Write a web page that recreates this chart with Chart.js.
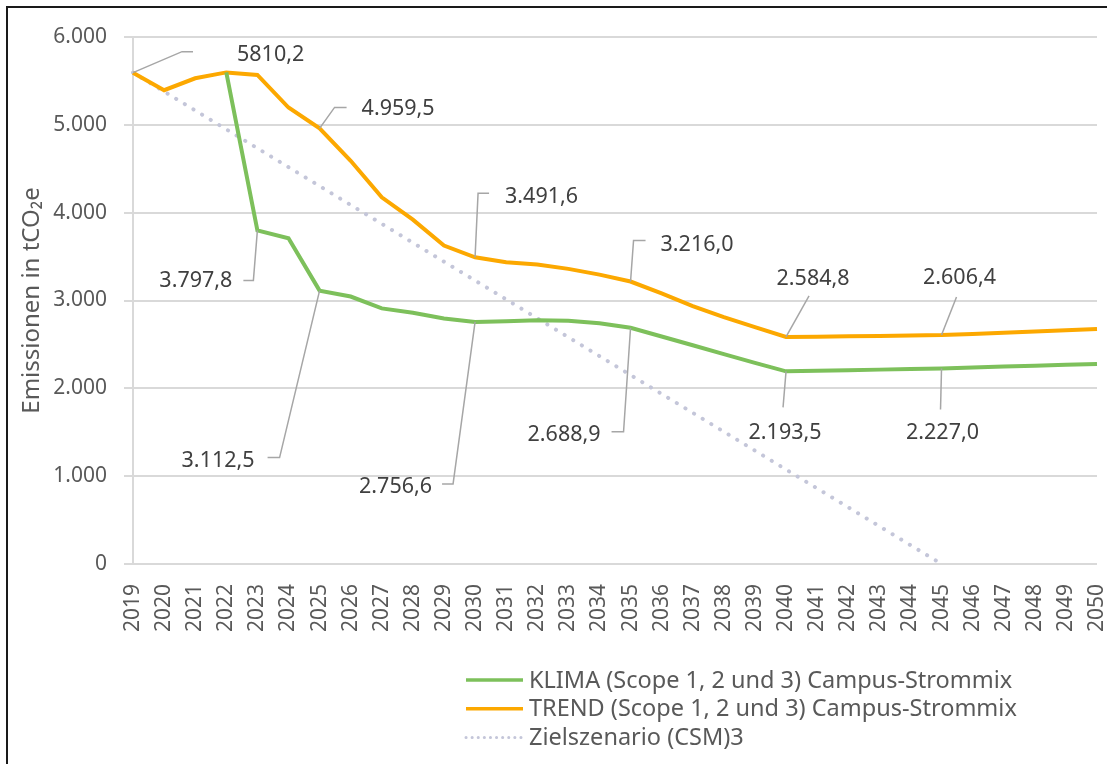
<!DOCTYPE html>
<html>
<head>
<meta charset="utf-8">
<script src="https://cdn.jsdelivr.net/npm/chart.js@4.4.0/dist/chart.umd.min.js"></script>
<style>
  html, body { margin: 0; padding: 0; background: #fff; }
  #wrap { width: 1107px; height: 764px; position: relative; }
</style>
</head>
<body>
<div id="wrap"><canvas id="chart"></canvas></div>
<script>
// years on the x axis
const years = ['2019','2020','2021','2022','2023','2024','2025','2026','2027','2028','2029','2030','2031','2032','2033','2034',
               '2035','2036','2037','2038','2039','2040','2041','2042','2043','2044','2045','2046','2047','2048','2049','2050'];

// tCO2e per scenario
const klimaValues = [null, null, null, 5597, 3797.8, 3708, 3112.5, 3045, 2910, 2860, 2795, 2756.6, 2765, 2775, 2770, 2740,
                     2688.9, 2590, 2490, 2390, 2290, 2193.5, 2200, 2207, 2213, 2220, 2227.0, 2237, 2248, 2258, 2268, 2278];
const trendValues = [5594, 5394, 5530, 5597, 5568, 5197, 4959.5, 4591, 4174, 3920, 3625, 3491.6, 3435, 3409, 3360, 3295,
                     3216.0, 3080, 2935, 2810, 2697, 2584.8, 2588, 2592, 2597, 2601, 2606.4, 2620, 2634, 2648, 2662, 2676];
// target path: start and end point only
const zielValues = [5594, null, null, null, null, null, null, null, null, null, null, null, null, null, null, null,
                    null, null, null, null, null, null, null, null, null, null, 0, null, null, null, null, null];

const seriesNames = ['KLIMA (Scope 1, 2 und 3) Campus-Strommix',
                     'TREND (Scope 1, 2 und 3) Campus-Strommix',
                     'Zielszenario (CSM)3'];

// data labels
const trendLabelYears = ['2019', '2025', '2030', '2035', '2040', '2045'];
const trendLabelTexts = ['5810,2', '4.959,5', '3.491,6', '3.216,0', '2.584,8', '2.606,4'];
const klimaLabelYears = ['2023', '2025', '2030', '2035', '2040', '2045'];
const klimaLabelTexts = ['3.797,8', '3.112,5', '2.756,6', '2.688,9', '2.193,5', '2.227,0'];

const GREEN = '#7dc05b';
const ORANGE = '#fca800';
const DOTS = '#c4c6d9';
const FONT = '"Noto Sans", "Open Sans", sans-serif';

// leader line offsets (px) relative to the point, text offset and alignment
const trendLayout = [
  { leader: [[0,0],[49,-21],[60,-21]], text: [104,-18], align: 'left' },
  { leader: [[0,0],[15,-21],[27,-21]], text: [42,-20], align: 'left' },
  { leader: [[0,0],[3,-64],[14,-64]],  text: [30,-60], align: 'left' },
  { leader: [[0,0],[3,-41],[15,-41]],  text: [30,-37], align: 'left' },
  { leader: [[0,0],[23,-41]],          text: [27,-58], align: 'center' },
  { leader: [[0,0],[15,-38]],          text: [18,-57], align: 'center' }
];
const klimaLayout = [
  { leader: [[0,0],[-4,50],[-14,50]],    text: [-25,50], align: 'right' },
  { leader: [[0,0],[-40,167],[-52,167]], text: [-65,170], align: 'right' },
  { leader: [[0,0],[-22,162],[-33,162]], text: [-43,165], align: 'right' },
  { leader: [[0,0],[-7,104],[-19,104]],  text: [-30,107], align: 'right' },
  { leader: [[0,0],[-3,36]],             text: [-1,62], align: 'center' },
  { leader: [[0,0],[-1,41]],             text: [1,64], align: 'center' }
];

function deNumber(v) {
  return String(v).replace(/\B(?=(\d{3})+(?!\d))/g, '.');
}

const calloutPlugin = {
  id: 'callouts',
  afterDatasetsDraw(chart) {
    const ctx = chart.ctx;
    const groups = [
      { ds: 1, years: trendLabelYears, texts: trendLabelTexts, layout: trendLayout },
      { ds: 0, years: klimaLabelYears, texts: klimaLabelTexts, layout: klimaLayout }
    ];
    ctx.save();
    groups.forEach(g => {
      const meta = chart.getDatasetMeta(g.ds);
      g.years.forEach((yr, i) => {
        const pt = meta.data[years.indexOf(yr)];
        if (!pt) return;
        const lay = g.layout[i];
        ctx.beginPath();
        lay.leader.forEach((o, k) => {
          if (k === 0) ctx.moveTo(pt.x + o[0], pt.y + o[1]);
          else ctx.lineTo(pt.x + o[0], pt.y + o[1]);
        });
        ctx.strokeStyle = '#a6a6a6';
        ctx.lineWidth = 1.5;
        ctx.stroke();
        ctx.fillStyle = '#404040';
        ctx.font = '21.5px ' + FONT;
        ctx.textAlign = lay.align;
        ctx.textBaseline = 'middle';
        ctx.fillText(g.texts[i], pt.x + lay.text[0], pt.y + lay.text[1]);
      });
    });
    ctx.restore();
  },
  afterDraw(chart) {
    const ctx = chart.ctx;
    ctx.save();
    // legend
    const colors = [GREEN, ORANGE, DOTS];
    seriesNames.forEach((name, i) => {
      const y = 680 + i * 28.7;
      ctx.beginPath();
      ctx.moveTo(466, y);
      ctx.lineTo(523, y);
      ctx.strokeStyle = colors[i];
      if (i === 2) {
        ctx.setLineDash([0.1, 6]);
        ctx.lineCap = 'round';
        ctx.lineWidth = 3;
      } else {
        ctx.setLineDash([]);
        ctx.lineCap = 'butt';
        ctx.lineWidth = 3.5;
      }
      ctx.stroke();
      ctx.fillStyle = '#595959';
      ctx.font = '23.5px ' + FONT;
      ctx.textAlign = 'left';
      ctx.textBaseline = 'middle';
      ctx.fillText(name, 529, y + 1);
    });
    // outer frame
    ctx.setLineDash([]);
    ctx.strokeStyle = '#1a1a1a';
    ctx.lineWidth = 2;
    ctx.beginPath();
    ctx.moveTo(7, 764);
    ctx.lineTo(7, 7);
    ctx.lineTo(1107, 7);
    ctx.stroke();
    ctx.restore();
  }
};

new Chart(document.getElementById('chart'), {
  type: 'line',
  data: {
    labels: years,
    datasets: [
      { label: seriesNames[0], data: klimaValues, borderColor: GREEN, backgroundColor: GREEN,
        borderWidth: 4, pointRadius: 0, tension: 0 },
      { label: seriesNames[1], data: trendValues, borderColor: ORANGE, backgroundColor: ORANGE,
        borderWidth: 4, pointRadius: 0, tension: 0 },
      { label: seriesNames[2], data: zielValues, borderColor: DOTS, backgroundColor: DOTS,
        borderWidth: 4, borderDash: [0.1, 10], borderCapStyle: 'round', pointRadius: 0,
        spanGaps: true, tension: 0 }
    ]
  },
  plugins: [calloutPlugin],
  options: {
    responsive: true,
    maintainAspectRatio: false,
    animation: false,
    layout: { padding: { top: 37, right: 10, left: 0, bottom: 120 } },
    plugins: {
      legend: { display: false },
      tooltip: { enabled: false }
    },
    scales: {
      x: {
        grid: { display: false },
        border: { display: false },
        ticks: {
          minRotation: 90, maxRotation: 90, autoSkip: false, padding: 12,
          color: '#595959', font: { family: FONT, size: 21 }
        },
        afterFit(scale) {
          scale.height = 80;
          scale.paddingLeft = 0;
          scale.paddingRight = 0;
        }
      },
      y: {
        min: 0, max: 6000,
        grid: { color: '#d9d9d9', lineWidth: 2, tickLength: 9 },
        border: { display: true, color: '#d9d9d9', width: 2 },
        ticks: {
          stepSize: 1000, padding: 17, color: '#595959',
          font: { family: FONT, size: 21 },
          callback: v => deNumber(v)
        },
        title: {
          display: true, text: 'Emissionen in tCO₂e', color: '#595959',
          font: { family: FONT, size: 24 }, padding: { top: 18, bottom: 0 }
        },
        afterFit(scale) {
          scale.width = 133;
          scale.paddingTop = 0;
          scale.paddingBottom = 0;
        }
      }
    }
  }
});
</script>
</body>
</html>
